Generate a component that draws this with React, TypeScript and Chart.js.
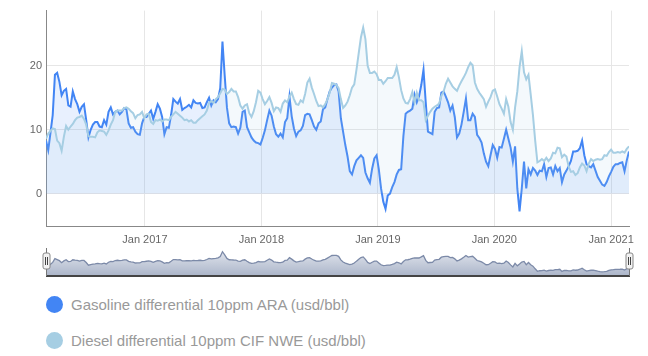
import React, { useEffect, useRef } from 'react';
import { Chart, registerables } from 'chart.js';

Chart.register(...registerables);

// Weekly observations, first week ending 2016-02-26
const START_DATE = '2016-02-26';
const STEP_DAYS = 7;

const seriesNames = [
  'Gasoline differential 10ppm ARA (usd/bbl)',
  'Diesel differential 10ppm CIF NWE (usd/bbl)',
];
const seriesColors = ['#4285f4', '#a6cee3'];
const seriesFills = ['rgba(66,133,244,0.12)', 'rgba(166,206,227,0.12)'];

const gasoline = [
  8.3, 6.8, 9.5, 12.3, 18.6, 18.9, 17.5, 15.4, 16.1, 16.4,
  13.8, 13.6, 16.0, 14.8, 14.0, 12.8, 13.6, 14.0, 11.5, 8.8,
  10.0, 10.8, 11.2, 11.2, 10.5, 10.4, 11.5, 10.8, 12.8, 13.5,
  12.4, 12.8, 13.0, 12.4, 12.8, 13.4, 13.2, 11.0, 10.3, 10.4,
  9.7, 9.3, 9.2, 11.0, 12.0, 12.0, 12.5, 13.0, 11.7, 12.8,
  14.0, 13.3, 12.0, 9.3, 10.4, 10.3, 12.3, 14.8, 14.4, 14.1,
  14.8, 13.1, 13.4, 13.6, 13.9, 13.5, 14.6, 14.2, 14.1, 14.2,
  13.4, 13.5, 14.3, 15.0, 13.8, 14.6, 14.3, 14.8, 16.5, 23.8,
  18.5, 13.5, 11.0, 10.4, 10.5, 10.4, 9.4, 10.3, 12.8, 13.0,
  10.4, 9.6, 8.8, 8.3, 8.0, 7.9, 7.7, 8.7, 9.9, 11.5,
  13.0, 12.2, 10.5, 9.3, 8.9, 9.4, 8.8, 11.2, 11.8, 15.2,
  12.1, 10.2, 9.0, 9.7, 9.9, 10.6, 12.3, 12.5, 12.4, 11.5,
  10.5, 10.0, 11.0, 11.3, 13.2, 13.5, 14.8, 16.0, 16.6, 17.0,
  17.1, 16.0, 11.8, 9.7, 7.6, 5.8, 3.5, 3.0, 4.3, 5.2,
  5.6, 6.0, 5.6, 3.3, 2.4, 1.7, 3.9, 5.5, 6.0, 3.8,
  0.8, -1.3, -2.4, -0.3, 0.0, 1.0, 1.8, 3.0, 3.7, 3.8,
  9.0, 12.5, 12.8, 13.0, 13.3, 15.5, 14.3, 15.2, 17.0, 19.4,
  14.3, 9.7, 9.5, 9.3, 12.8, 13.4, 13.5, 15.8, 16.0, 15.2,
  14.3, 13.0, 13.8, 12.0, 8.8, 9.4, 10.8, 12.8, 14.9, 11.5,
  11.5, 12.5, 12.0, 9.2, 8.7, 8.0, 6.3, 5.0, 4.3, 6.0,
  7.6, 7.0, 5.6, 7.3, 7.2, 8.6, 10.0, 8.6, 7.2, 5.0,
  7.4, 0.8, -2.8, 0.8, 5.0, 0.8, 3.8, 3.0, 4.0, 3.6,
  2.9, 3.6, 3.5, 4.6, 2.6, 4.0, 4.1, 3.0, 4.3, 3.5,
  4.0, 1.8, 3.0, 3.6, 4.3, 5.1, 6.6, 6.6, 6.7, 7.1,
  8.3, 6.0, 4.6, 4.3, 4.1, 4.6, 3.6, 2.6, 2.0, 1.4,
  1.2, 1.8, 2.7, 3.4, 4.2, 4.6, 4.6, 4.8, 4.9, 3.5,
  5.2, 6.6,
];

const diesel = [
  8.6, 9.4, 9.8, 10.2, 10.1, 8.3, 7.9, 6.7, 8.9, 10.6,
  10.0, 10.5, 10.9, 11.5, 11.9, 12.0, 12.2, 11.7, 10.8, 9.0,
  8.9, 8.9, 8.8, 9.6, 9.9, 9.8, 9.7, 9.2, 9.9, 10.8,
  11.5, 12.8, 13.0, 13.0, 13.0, 13.4, 13.5, 13.3, 12.9, 12.6,
  11.8, 12.3, 12.4, 12.8, 11.8, 12.4, 12.5, 11.2, 10.9, 11.5,
  11.4, 11.6, 11.3, 11.6, 11.6, 11.5, 12.0, 12.4, 12.8, 12.5,
  12.2, 11.9, 11.5, 11.6, 11.3, 11.5, 11.1, 11.1, 11.5, 11.8,
  12.1, 12.4, 13.0, 14.2, 14.5, 14.2, 14.8, 15.1, 15.7, 16.4,
  16.3, 15.6, 15.9, 16.4, 16.0, 16.0, 15.1, 13.8, 13.3, 13.8,
  14.0, 12.6, 12.0, 12.9, 14.3, 16.1, 15.8, 14.8, 14.0, 14.5,
  15.1, 14.2, 12.9, 13.5, 13.4, 12.8, 14.1, 14.6, 14.3, 15.2,
  15.8, 14.8, 14.0, 13.9, 14.6, 14.3, 15.6, 17.4, 18.0, 16.6,
  15.6, 14.5, 13.7, 13.8, 13.5, 14.0, 14.8, 15.8, 17.3, 17.2,
  17.0, 16.5, 14.8, 13.4, 13.8, 14.4, 15.4, 16.6, 17.1, 19.4,
  22.0, 24.5, 26.0, 24.2, 20.0, 18.9, 18.9, 19.1, 18.7, 17.8,
  17.8, 17.2, 17.6, 18.1, 18.1, 18.1, 18.6, 19.8, 18.2, 16.2,
  14.9, 14.2, 14.1, 14.8, 15.9, 14.3, 15.8, 14.6, 14.6, 14.3,
  11.5, 12.2, 12.8, 13.3, 13.6, 13.8, 14.1, 15.3, 16.0, 17.2,
  18.0, 17.4, 16.8, 16.4, 16.1, 16.9, 17.6, 18.2, 18.9, 19.8,
  20.5, 20.1, 17.4, 16.4, 15.8, 15.3, 14.8, 13.6, 14.4, 15.1,
  16.1, 16.3, 15.2, 14.0, 13.3, 12.5, 14.8, 13.6, 11.2, 10.0,
  13.5, 16.0, 19.8, 22.3, 19.0, 17.9, 18.6, 15.5, 12.3, 8.3,
  4.9, 5.1, 5.4, 5.1, 5.6, 5.1, 5.5, 6.4, 6.3, 7.2,
  7.1, 5.7, 6.1, 5.8, 4.2, 3.4, 3.5, 2.9, 3.2, 4.1,
  4.7, 4.4, 3.5, 4.7, 5.4, 5.1, 5.3, 5.4, 5.3, 5.4,
  6.0, 5.9, 6.5, 6.9, 6.4, 6.4, 6.5, 6.4, 6.6, 6.4,
  7.0, 7.4,
];

const yTicks = [0, 10, 20];
const xTickYears = [2017, 2018, 2019, 2020, 2021];
const yRange = { min: -5.08, max: 28.66 };

const FONT = '"Liberation Sans", Arial, Helvetica, sans-serif';
const DAY_MS = 86400000;

const navDecor = {
  id: 'navDecor',
  afterDraw(chart: any) {
    const { ctx, chartArea: a } = chart;
    ctx.save();
    ctx.strokeStyle = '#444';
    ctx.lineWidth = 2;
    ctx.beginPath();
    ctx.moveTo(a.left, a.bottom);
    ctx.lineTo(a.right + 1, a.bottom);
    ctx.stroke();
    ctx.strokeStyle = '#777';
    ctx.lineWidth = 1;
    for (const x of [a.left, a.right]) {
      const px = Math.round(x) + 0.5;
      ctx.beginPath();
      ctx.moveTo(px, a.top - 2);
      ctx.lineTo(px, a.bottom);
      ctx.stroke();
    }
    for (const x of [a.left, a.right]) {
      const cx = Math.round(x) + 0.5;
      const w = 7, h = 16;
      const hx = cx - w / 2, hy = a.top + 3;
      ctx.beginPath();
      ctx.roundRect(hx, hy, w, h, 2);
      ctx.fillStyle = '#f2f2f2';
      ctx.fill();
      ctx.strokeStyle = '#888';
      ctx.stroke();
      ctx.strokeStyle = '#444';
      for (const dx of [-1, 1]) {
        ctx.beginPath();
        ctx.moveTo(cx + dx, hy + 4);
        ctx.lineTo(cx + dx, hy + h - 4);
        ctx.stroke();
      }
    }
    ctx.restore();
  },
};

export default function App() {
  const mainRef = useRef<HTMLCanvasElement>(null);
  const navRef = useRef<HTMLCanvasElement>(null);

  useEffect(() => {
    const t0 = Date.parse(START_DATE + 'T00:00:00Z');
    const times = gasoline.map((_, i) => t0 + i * STEP_DAYS * DAY_MS);
    const gasPts = gasoline.map((v, i) => ({ x: times[i], y: v }));
    const dieselPts = diesel.map((v, i) => ({ x: times[i], y: v }));
    const xMin = times[0];
    const xMax = times[times.length - 1];

    const main = new Chart(mainRef.current!, {
      type: 'line',
      data: {
        datasets: [
          {
            label: seriesNames[0],
            data: gasPts,
            borderColor: seriesColors[0],
            backgroundColor: seriesFills[0],
            fill: 'origin',
            borderWidth: 2,
            pointRadius: 0,
            tension: 0,
            order: 1,
          },
          {
            label: seriesNames[1],
            data: dieselPts,
            borderColor: seriesColors[1],
            backgroundColor: seriesFills[1],
            fill: 'origin',
            borderWidth: 2,
            pointRadius: 0,
            tension: 0,
            order: 0,
          },
        ],
      },
      options: {
        animation: false,
        responsive: false,
        maintainAspectRatio: false,
        layout: { padding: { top: 7, right: 19, left: 0, bottom: 0 } },
        plugins: { legend: { display: false }, tooltip: { enabled: false } },
        scales: {
          x: {
            type: 'linear',
            min: xMin,
            max: xMax,
            grid: { color: '#e6e6e6', drawTicks: false },
            border: { color: '#888', width: 1 },
            ticks: {
              padding: 7,
              color: '#666',
              font: { size: 11, family: FONT },
              maxRotation: 0,
              autoSkip: false,
              callback: (v: any) => 'Jan ' + new Date(Number(v)).getUTCFullYear(),
            },
            afterBuildTicks: (axis: any) => {
              axis.ticks = xTickYears.map((y) => ({ value: Date.UTC(y, 0, 1) }));
            },
            afterFit: (axis: any) => {
              axis.height = 19;
            },
          },
          y: {
            min: yRange.min,
            max: yRange.max,
            grid: { color: '#e6e6e6', drawTicks: false },
            border: { color: '#888', width: 1 },
            ticks: {
              padding: 4,
              color: '#666',
              font: { size: 11, family: FONT },
              callback: (v: any) => String(v),
            },
            afterBuildTicks: (axis: any) => {
              axis.ticks = yTicks.map((v) => ({ value: v }));
            },
            afterFit: (axis: any) => {
              axis.width = 46;
            },
          },
        },
      },
    });

    const navGradient = (c: any) => {
      const chart = c.chart;
      const a = chart.chartArea;
      if (!a) return 'rgba(0,0,0,0)';
      const g = chart.ctx.createLinearGradient(0, a.top, 0, a.bottom);
      g.addColorStop(0, '#e2e6ee');
      g.addColorStop(1, '#abb5c9');
      return g;
    };

    const nav = new Chart(navRef.current!, {
      type: 'line',
      data: {
        datasets: [
          {
            data: gasPts,
            borderWidth: 0,
            borderColor: 'rgba(0,0,0,0)',
            backgroundColor: 'rgba(0,0,0,0)',
            fill: false,
            pointRadius: 0,
          },
          {
            data: dieselPts,
            borderWidth: 1.3,
            borderColor: '#7c8aa8',
            backgroundColor: navGradient,
            fill: 'origin',
            pointRadius: 0,
          },
        ],
      },
      options: {
        animation: false,
        responsive: false,
        maintainAspectRatio: false,
        layout: { padding: { top: 5, right: 19, left: 46, bottom: 4 } },
        plugins: { legend: { display: false }, tooltip: { enabled: false } },
        scales: {
          x: { type: 'linear', min: xMin, max: xMax, display: false },
          y: { stacked: true, min: 0, max: 43, display: false },
        },
      },
      plugins: [navDecor],
    });

    return () => {
      main.destroy();
      nav.destroy();
    };
  }, []);

  const legendTops = [304.5, 340];

  return (
    <div style={{ position: 'absolute', left: 0, top: 0, width: 648, height: 356, background: '#fff' }}>
      <canvas ref={mainRef} width={648} height={245} style={{ position: 'absolute', left: 0, top: 0, display: 'block' }} />
      <canvas ref={navRef} width={648} height={35} style={{ position: 'absolute', left: 0, top: 245, display: 'block' }} />
      {seriesNames.map((name, i) => (
        <div
          key={name}
          style={{
            position: 'absolute',
            left: 46,
            top: legendTops[i] - 10,
            height: 20,
            display: 'flex',
            alignItems: 'center',
            fontFamily: FONT,
            fontSize: 15,
            color: '#999',
            whiteSpace: 'nowrap',
          }}
        >
          <span
            style={{
              display: 'inline-block',
              width: 17,
              height: 17,
              borderRadius: '50%',
              background: seriesColors[i],
              marginRight: 8,
            }}
          />
          <span>{name}</span>
        </div>
      ))}
    </div>
  );
}
